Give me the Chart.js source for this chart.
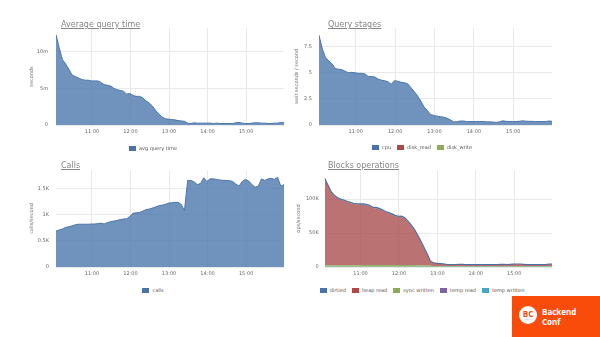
<!DOCTYPE html>
<html>
<head>
<meta charset="utf-8">
<script src="https://cdn.jsdelivr.net/npm/chart.js@4/dist/chart.umd.min.js"></script>
<style>
  html, body { margin: 0; padding: 0; background: #fff; width: 600px; height: 337px; overflow: hidden;
    font-family: "DejaVu Sans", sans-serif; }
  canvas { position: absolute; }
  .title { position: absolute; font-size: 8px; line-height: 10px; color: #858585;
    text-decoration: underline; white-space: nowrap; }
  .legend { position: absolute; width: 260px; height: 8px; display: flex; justify-content: center;
    align-items: center; font-size: 5px; color: #555; white-space: nowrap; }
  .legend .item { display: flex; align-items: center; margin: 0 3px; }
  .legend .sw { width: 7px; height: 5px; margin-right: 3px; }
  .logo { position: absolute; left: 512px; top: 296px; width: 88px; height: 41px; background: #f94c0b; }
  .logo .circle { position: absolute; left: 7px; top: 10px; width: 18px; height: 18px; border-radius: 50%;
    background: #fff; }
  .logo .bc { position: absolute; left: 0; top: 3px; width: 18px; text-align: center; font: bold 8px/9px "Open Sans", sans-serif;
    color: #f94c0b; }
  .logo .yr { position: absolute; left: 0; top: 12px; width: 18px; text-align: center; font: 2.5px/3px "Open Sans", sans-serif;
    color: #999; }
  .logo .name { position: absolute; left: 30px; color: #fff; font: bold 8px/9px "Open Sans", sans-serif; }
</style>
</head>
<body>
<canvas id="c1" width="290" height="124" style="left:0px;top:16px"></canvas>
<canvas id="c2" width="270" height="124" style="left:290px;top:16px"></canvas>
<canvas id="c3" width="290" height="124" style="left:0px;top:158px"></canvas>
<canvas id="c4" width="270" height="124" style="left:290px;top:158px"></canvas>

<div class="title" style="left:61px;top:20px">Average query time</div>
<div class="title" style="left:328px;top:20px">Query stages</div>
<div class="title" style="left:61px;top:161px">Calls</div>
<div class="title" style="left:328px;top:161px">Blocks operations</div>

<div class="legend" id="l1" style="left:23px;top:144px"></div>
<div class="legend" id="l2" style="left:292px;top:143px"></div>
<div class="legend" id="l3" style="left:23px;top:286px"></div>
<div class="legend" id="l4" style="left:292px;top:286px"></div>

<div class="logo">
  <div class="circle"><div class="bc">BC</div><div class="yr">2016</div></div>
  <div class="name" style="top:11px">Backend</div>
  <div class="name" style="top:21px">Conf</div>
</div>

<script>
// Sample times, minutes after 10:00 (5-minute interval)
const minutes = [4, 9, 14, 19, 24, 29, 34, 39, 44, 49, 54, 59, 64, 69, 74, 79, 84, 89, 94, 99, 104, 109, 114, 119,
  124, 129, 134, 139, 144, 149, 154, 159, 164, 169, 174, 179, 184, 189, 194, 199, 204, 209, 214, 219, 224, 229, 234, 239,
  244, 249, 254, 259, 264, 269, 274, 279, 284, 289, 294, 299, 304, 309, 314, 319, 324, 329, 334, 339, 344, 349, 354, 359];
const hourTicks = [60, 120, 180, 240, 300];
const hourLabels = ['11:00', '12:00', '13:00', '14:00', '15:00'];

// Average query time, milliseconds
const avgQueryTime = [12.3, 10.5, 8.9, 8.3, 7.6, 6.8, 6.6, 6.4, 6.2, 6.1, 6.1, 6.0, 6.0, 6.0, 5.8, 5.5, 5.4, 5.3, 5.0, 4.8,
  4.7, 4.6, 4.2, 4.3, 4.0, 3.9, 3.9, 3.7, 3.3, 3.0, 2.6, 2.0, 1.5, 1.1, 0.85, 0.8, 0.75, 0.7, 0.6, 0.55, 0.5, 0.25, 0.2, 0.3,
  0.25, 0.25, 0.25, 0.25, 0.25, 0.2, 0.25, 0.2, 0.2, 0.2, 0.2, 0.2, 0.3, 0.35, 0.25, 0.2, 0.2, 0.25, 0.3, 0.3, 0.25, 0.25,
  0.2, 0.2, 0.25, 0.25, 0.35, 0.3];
const avgTicks = [0, 5, 10];
const avgTickLabels = ['0', '5m', '10m'];

// Query stages, wait seconds per second
const cpu = [8.6, 7.3, 6.45, 6.15, 5.85, 5.4, 5.35, 5.3, 5.15, 5.0, 5.05, 5.0, 4.95, 4.95, 4.9, 4.65, 4.65, 4.6, 4.4, 4.3,
  4.25, 4.15, 3.9, 4.25, 4.2, 4.1, 4.05, 3.95, 3.6, 3.2, 2.8, 2.3, 1.75, 1.4, 1.0, 0.92, 0.85, 0.8, 0.75, 0.65, 0.5, 0.3,
  0.3, 0.38, 0.38, 0.33, 0.33, 0.33, 0.33, 0.33, 0.33, 0.3, 0.3, 0.28, 0.25, 0.3, 0.4, 0.35, 0.33, 0.33, 0.33, 0.35, 0.4,
  0.37, 0.35, 0.35, 0.33, 0.33, 0.33, 0.33, 0.38, 0.35];
const diskRead = [0, 0, 0, 0, 0, 0, 0, 0, 0, 0, 0, 0, 0, 0, 0, 0, 0, 0, 0, 0, 0, 0, 0, 0, 0, 0, 0, 0, 0, 0, 0, 0, 0, 0, 0, 0,
  0, 0, 0, 0, 0, 0, 0, 0, 0, 0, 0, 0, 0, 0, 0, 0, 0, 0, 0, 0, 0, 0, 0, 0, 0, 0, 0, 0, 0, 0, 0, 0, 0, 0, 0, 0];
const diskWrite = [0, 0, 0, 0, 0, 0, 0, 0, 0, 0, 0, 0, 0, 0, 0, 0, 0, 0, 0, 0, 0, 0, 0, 0, 0, 0, 0, 0, 0, 0, 0, 0, 0, 0, 0, 0,
  0, 0, 0, 0, 0, 0, 0, 0, 0, 0, 0, 0, 0, 0, 0, 0, 0, 0, 0, 0, 0, 0, 0, 0, 0, 0, 0, 0, 0, 0, 0, 0, 0, 0, 0, 0];
const stageTicks = [0, 2.5, 5, 7.5];
const stageTickLabels = ['0', '2.5', '5', '7.5'];

// Calls, thousands per second
const calls = [0.69, 0.71, 0.73, 0.76, 0.77, 0.79, 0.81, 0.82, 0.82, 0.82, 0.82, 0.825, 0.825, 0.83, 0.84, 0.825, 0.85,
  0.87, 0.88, 0.89, 0.91, 0.92, 0.925, 0.97, 1.03, 1.04, 1.045, 1.07, 1.10, 1.11, 1.13, 1.15, 1.175, 1.185, 1.20, 1.225,
  1.23, 1.24, 1.24, 1.20, 1.08, 1.66, 1.66, 1.63, 1.58, 1.60, 1.71, 1.64, 1.69, 1.69, 1.68, 1.67, 1.66, 1.66, 1.655, 1.64,
  1.59, 1.55, 1.64, 1.68, 1.65, 1.58, 1.53, 1.55, 1.69, 1.66, 1.69, 1.70, 1.68, 1.72, 1.55, 1.58];
const callTicks = [0, 0.5, 1, 1.5];
const callTickLabels = ['0', '0.5K', '1K', '1.5K'];

// Block operations, thousands per second
const dirtied = [1.2, 1.2, 1.2, 1.2, 1.2, 1.2, 1.2, 1.2, 1.2, 1.2, 1.2, 1.2, 1.2, 1.2, 1.2, 1.2, 1.2, 1.2, 1.2, 1.2, 1.2,
  1.2, 1.2, 1.2, 1.2, 1.2, 1.2, 1.2, 1.2, 1.2, 1.2, 1.2, 1.2, 0.9, 0.6, 0.5, 0.5, 0.5, 0.5, 0.5, 0.5, 0.5, 0.5, 0.5, 0.5,
  0.5, 0.5, 0.5, 0.5, 0.5, 0.5, 0.5, 0.5, 0.5, 0.5, 0.5, 0.5, 0.5, 0.5, 0.5, 0.5, 0.5, 0.5, 0.5, 0.5, 0.5, 0.5, 0.5, 0.5,
  0.5, 0.5, 0.5];
const heapRead = [127.4, 117.4, 107.3, 102.3, 98.3, 96.2, 95.0, 93.2, 91.6, 90.1, 89.4, 89.1, 89.0, 88.5, 87.0, 84.0, 83.7,
  82.4, 80.4, 77.6, 76.1, 74.1, 72.0, 70.6, 71.0, 68.7, 63.4, 58.0, 51.5, 43.6, 34.7, 25.4, 16.1, 6.2, 4.0, 3.5, 3.0, 2.6,
  2.0, 1.6, 1.5, 1.7, 1.9, 2.0, 1.7, 1.5, 1.5, 1.5, 1.5, 1.5, 1.5, 1.6, 1.5, 1.6, 1.7, 1.9, 2.0, 1.8, 2.0, 2.3, 2.5, 2.5,
  2.1, 1.7, 1.5, 1.5, 1.5, 1.5, 1.5, 1.7, 2.3, 2.5];
const syncWritten = [2.0, 2.0, 2.1, 2.1, 2.1, 2.2, 2.2, 2.2, 2.3, 2.3, 2.3, 2.3, 2.4, 2.4, 2.4, 2.4, 2.5, 2.5, 2.5, 2.6,
  2.6, 2.6, 2.6, 2.6, 2.6, 2.5, 2.5, 2.4, 2.4, 2.3, 2.2, 2.0, 1.8, 1.5, 1.0, 1.0, 1.0, 1.0, 1.0, 1.0, 1.0, 1.0, 1.0, 1.0,
  1.0, 1.0, 1.0, 1.0, 1.0, 1.0, 1.0, 1.0, 1.0, 1.0, 1.0, 1.0, 1.0, 1.0, 1.0, 1.0, 1.0, 1.0, 1.0, 1.0, 1.0, 1.0, 1.0, 1.0,
  1.0, 1.0, 1.0, 1.0];
const tempRead = [0, 0, 0, 0, 0, 0, 0, 0, 0, 0, 0, 0, 0, 0, 0, 0, 0, 0, 0, 0, 0, 0, 0, 0, 0, 0, 0, 0, 0, 0, 0, 0, 0, 0, 0, 0,
  0, 0, 0, 0, 0, 0, 0, 0, 0, 0, 0, 0, 0, 0, 0, 0, 0, 0, 0, 0, 0, 0, 0, 0, 0, 0, 0, 0, 0, 0, 0, 0, 0, 0, 0, 0];
const tempWritten = [0.4, 0.4, 0.4, 0.4, 0.4, 0.4, 0.4, 0.4, 0.4, 0.4, 0.4, 0.4, 0.4, 0.4, 0.4, 0.4, 0.4, 0.4, 0.4, 0.4,
  0.4, 0.4, 0.4, 0.4, 0.4, 0.4, 0.4, 0.4, 0.4, 0.4, 0.4, 0.4, 0.4, 0.4, 0.4, 0.4, 0.4, 0.4, 0.4, 0.4, 0.4, 0.4, 0.4, 0.4,
  0.4, 0.4, 0.4, 0.4, 0.4, 0.4, 0.4, 0.4, 0.4, 0.4, 0.4, 0.4, 0.4, 0.4, 0.4, 0.4, 0.4, 0.4, 0.4, 0.4, 0.4, 0.4, 0.4, 0.4,
  0.4, 0.4, 0.4, 0.4];
const blockTicks = [0, 50, 100];
const blockTickLabels = ['0', '50K', '100K'];

const GRID = '#e9e9e9';
const TICK = '#666';
const palette = {
  blue: '#4a72a8', red: '#b24747', green: '#8cac55', purple: '#7e63a0', teal: '#47a6c1'
};

Chart.defaults.font.family = '"DejaVu Sans", sans-serif';
Chart.defaults.animation = false;

function points(values) {
  return minutes.map((m, i) => ({ x: m, y: values[i] }));
}

function timeAxis() {
  return {
    type: 'linear',
    min: minutes[0],
    max: minutes[minutes.length - 1],
    afterBuildTicks: s => { s.ticks = hourTicks.map(v => ({ value: v })); },
    afterFit: s => { s.height = 15; },
    ticks: { font: { size: 5 }, color: TICK, padding: 4, maxRotation: 0, autoSkip: false,
      callback: v => hourLabels[hourTicks.indexOf(v)] },
    grid: { color: GRID, drawTicks: false },
    border: { display: false }
  };
}

function valueAxis(o) {
  return {
    min: 0,
    max: o.max,
    stacked: !!o.stacked,
    afterBuildTicks: s => { s.ticks = o.ticks.map(v => ({ value: v })); },
    afterFit: s => { s.width = o.width; },
    ticks: { font: { size: 5 }, color: TICK, padding: o.pad,
      callback: v => o.labels[o.ticks.indexOf(v)] },
    grid: { color: GRID, drawTicks: false },
    border: { display: false },
    title: { display: true, text: o.title, font: { size: 5 }, color: '#777', padding: { top: 4, bottom: 4 } }
  };
}

function areaSet(label, values, fill, line, width, fillMode) {
  return {
    label, data: points(values), backgroundColor: fill, borderColor: line, borderWidth: width,
    pointRadius: 0, tension: 0, fill: fillMode
  };
}

function makeChart(id, datasets, yAxis, padLeft, padRight) {
  return new Chart(document.getElementById(id), {
    type: 'line',
    data: { datasets },
    options: {
      responsive: false,
      devicePixelRatio: 1,
      layout: { padding: { left: padLeft, top: 12, right: padRight, bottom: 0 } },
      plugins: { legend: { display: false }, tooltip: { enabled: false } },
      scales: { x: timeAxis(), y: yAxis }
    }
  });
}

function legend(id, items) {
  const box = document.getElementById(id);
  items.forEach(([name, color]) => {
    const it = document.createElement('div');
    it.className = 'item';
    const sw = document.createElement('div');
    sw.className = 'sw';
    sw.style.background = color;
    const tx = document.createElement('span');
    tx.textContent = name;
    it.appendChild(sw);
    it.appendChild(tx);
    box.appendChild(it);
  });
}

// Average query time
makeChart('c1', [
  areaSet('avg query time', avgQueryTime, 'rgba(76,120,174,0.8)', '#4a74aa', 1, 'origin')
], valueAxis({ max: 13.2, ticks: avgTicks, labels: avgTickLabels, width: 31, pad: 8, title: 'seconds' }), 25, 6);
legend('l1', [['avg query time', palette.blue]]);

// Query stages
makeChart('c2', [
  areaSet('cpu', cpu, 'rgba(76,120,174,0.8)', '#4a74aa', 1, 'origin'),
  areaSet('disk_read', diskRead, 'rgba(178,71,71,0.8)', palette.red, 0, '-1'),
  areaSet('disk_write', diskWrite, 'rgba(140,172,85,0.8)', palette.green, 0, '-1')
], valueAxis({ max: 9.3, ticks: stageTicks, labels: stageTickLabels, width: 29, pad: 7,
  title: 'wait seconds / second', stacked: true }), 0, 8);
legend('l2', [['cpu', palette.blue], ['disk_read', palette.red], ['disk_write', palette.green]]);

// Calls
makeChart('c3', [
  areaSet('calls', calls, 'rgba(76,120,174,0.8)', '#4a74aa', 1, 'origin')
], valueAxis({ max: 1.86, ticks: callTicks, labels: callTickLabels, width: 31, pad: 7, title: 'calls/second' }), 25, 6);
legend('l3', [['calls', palette.blue]]);

// Block operations, stacked bottom to top
makeChart('c4', [
  areaSet('temp written', tempWritten, 'rgba(71,166,193,0.9)', palette.teal, 0, 'origin'),
  areaSet('temp read', tempRead, 'rgba(126,99,160,0.9)', palette.purple, 0, '-1'),
  areaSet('sync written', syncWritten, 'rgba(140,172,85,0.9)', palette.green, 0, '-1'),
  areaSet('heap read', heapRead, 'rgba(168,74,74,0.78)', '#a04848', 0, '-1'),
  areaSet('dirtied', dirtied, 'rgba(74,114,168,0.9)', '#4a72a8', 1.2, '-1')
], valueAxis({ max: 143, ticks: blockTicks, labels: blockTickLabels, width: 32.7, pad: 6,
  title: 'ops/second', stacked: true }), 2, 8);
legend('l4', [['dirtied', palette.blue], ['heap read', palette.red], ['sync written', palette.green],
  ['temp read', palette.purple], ['temp written', palette.teal]]);
</script>
</body>
</html>
